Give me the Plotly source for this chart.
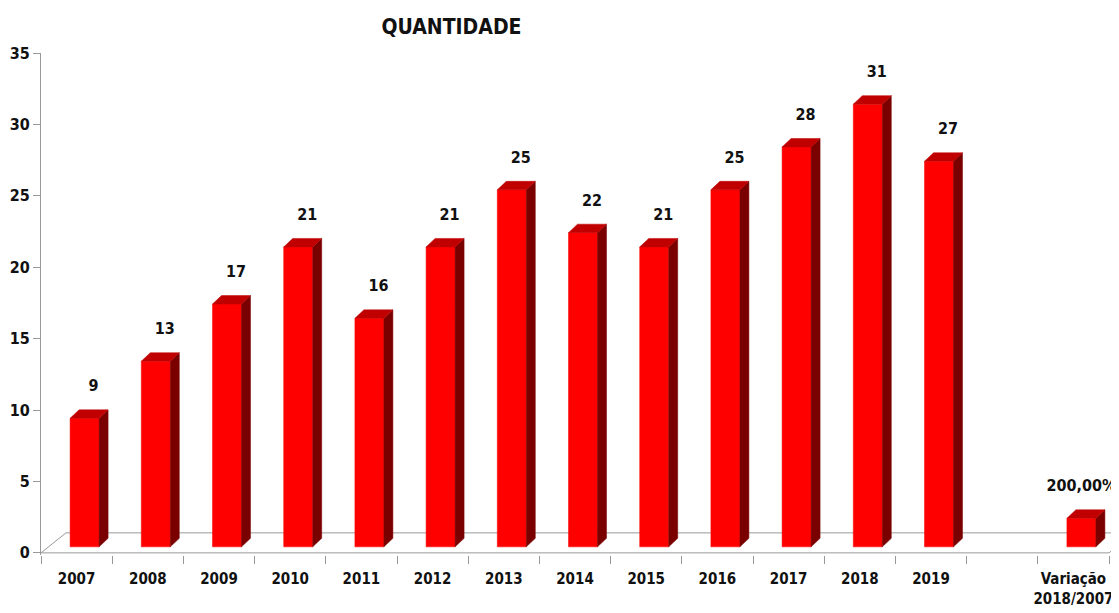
import plotly.graph_objects as go

# ---------------- data ----------------
categories = ["2007", "2008", "2009", "2010", "2011", "2012", "2013",
              "2014", "2015", "2016", "2017", "2018", "2019", "",
              "Variação<br>2018/2007"]
values = [9, 13, 17, 21, 16, 21, 25, 22, 21, 25, 28, 31, 27, None, 2.0]
value_labels = ["9", "13", "17", "21", "16", "21", "25", "22", "21", "25",
                "28", "31", "27", "", "200,00%"]
y_ticks = [0, 5, 10, 15, 20, 25, 30, 35]
title_text = "QUANTIDADE"

# ---------------- geometry ----------------
# the page body has an 8px margin, so the figure is drawn 8px in from the corner
PAGE_OFF = 8
W, H = 1119 - PAGE_OFF, 613 - PAGE_OFF
ML, MR, MT, MB = 41 - PAGE_OFF, 0, 53 - PAGE_OFF, 58
CAT_PX = 71.2                      # px per category
Y_MAX, Y_MIN = 35, -0.15
plot_w = W - ML - MR
plot_h = H - MT - MB
x_lo = -0.5
x_hi = x_lo + plot_w / CAT_PX
px_x = 1.0 / CAT_PX                 # data units per px (x)
px_y = (Y_MAX - Y_MIN) / plot_h     # data units per px (y)

FRONT_DX = 8 * px_x
BASE = 6 * px_y
BAR_W = 29 * px_x
DEP_DX = 9 * px_x
DEP_DY = 8.5 * px_y
FLOOR_DX = 25 * px_x
FLOOR_DY = 20 * px_y
LABEL_DX = 9 * px_x
LABEL_DY = 31 * px_y

font_family = "DejaVu Sans Condensed, Liberation Sans Narrow, Liberation Sans, sans-serif"
GREY = "#999999"
TXT = "#111111"

fig = go.Figure()

# floor
n = len(categories)
fx = [x_lo, x_lo + n, x_lo + n + FLOOR_DX, x_lo + FLOOR_DX, x_lo]
fy = [0, 0, FLOOR_DY, FLOOR_DY, 0]
fig.add_trace(go.Scatter(x=fx, y=fy, mode="lines", fill="toself",
                         fillcolor="white", line=dict(color=GREY, width=1),
                         hoverinfo="skip", showlegend=False))

front_x, front_y, side_x, side_y, top_x, top_y = [], [], [], [], [], []
for i, v in enumerate(values):
    if v is None:
        continue
    x0 = i + FRONT_DX - BAR_W / 2
    x1 = i + FRONT_DX + BAR_W / 2
    b = BASE
    t = BASE + v
    front_x += [x0, x1, x1, x0, x0, None]
    front_y += [b, b, t, t, b, None]
    side_x += [x1, x1 + DEP_DX, x1 + DEP_DX, x1, x1, None]
    side_y += [b, b + DEP_DY, t + DEP_DY, t, b, None]
    top_x += [x0, x1, x1 + DEP_DX, x0 + DEP_DX, x0, None]
    top_y += [t, t, t + DEP_DY, t + DEP_DY, t, None]

for xs, ys, col in [(front_x, front_y, "#FF0000"),
                    (side_x, side_y, "#7A0000"),
                    (top_x, top_y, "#C00000")]:
    fig.add_trace(go.Scatter(x=xs, y=ys, mode="lines", fill="toself",
                             fillcolor=col, line=dict(color=col, width=0.5),
                             hoverinfo="skip", showlegend=False))

# value labels
lx, ly, lt = [], [], []
last = n - 1
for i, (v, s) in enumerate(zip(values, value_labels)):
    if v is None:
        continue
    dx = 0 if i == last else LABEL_DX
    lx.append(i + FRONT_DX + dx)
    ly.append(v + BASE + LABEL_DY)
    lt.append(s)
fig.add_trace(go.Scatter(x=lx, y=ly, mode="text", text=lt,
                         textposition="middle center", cliponaxis=False,
                         textfont=dict(family=font_family, size=16,
                                       color=TXT, weight="bold"),
                         hoverinfo="skip", showlegend=False))

fig.update_layout(
    template="none",
    width=W, height=H,
    margin=dict(l=ML, r=MR, t=MT, b=MB, autoexpand=False),
    paper_bgcolor="white", plot_bgcolor="white",
    showlegend=False,
    title=dict(text=title_text,
               x=(451.5 - PAGE_OFF) / W, xanchor="center",
               y=1 - (27 - PAGE_OFF) / H, yanchor="middle",
               font=dict(family=font_family, size=21, color=TXT,
                         weight="bold")),
    xaxis=dict(range=[x_lo, x_hi], showgrid=False, zeroline=False,
               showline=False, automargin=False,
               tickmode="array", tickvals=list(range(n)), ticktext=categories,
               ticks="", ticklabelstandoff=13,
               tickfont=dict(family=font_family, size=15, color=TXT,
                             weight="bold"),
               minor=dict(tickmode="array",
                          tickvals=[x_lo + k for k in range(n + 1)],
                          ticks="outside", ticklen=8, tickcolor=GREY,
                          tickwidth=1, showgrid=False)),
    yaxis=dict(range=[Y_MIN, Y_MAX], showgrid=False, zeroline=False,
               showline=True, linecolor=GREY, linewidth=1, automargin=False,
               tickmode="array", tickvals=y_ticks,
               ticks="outside", ticklen=7, tickcolor=GREY,
               tickfont=dict(family=font_family, size=16, color=TXT,
                             weight="bold")),
)

fig.write_html("out.html")
